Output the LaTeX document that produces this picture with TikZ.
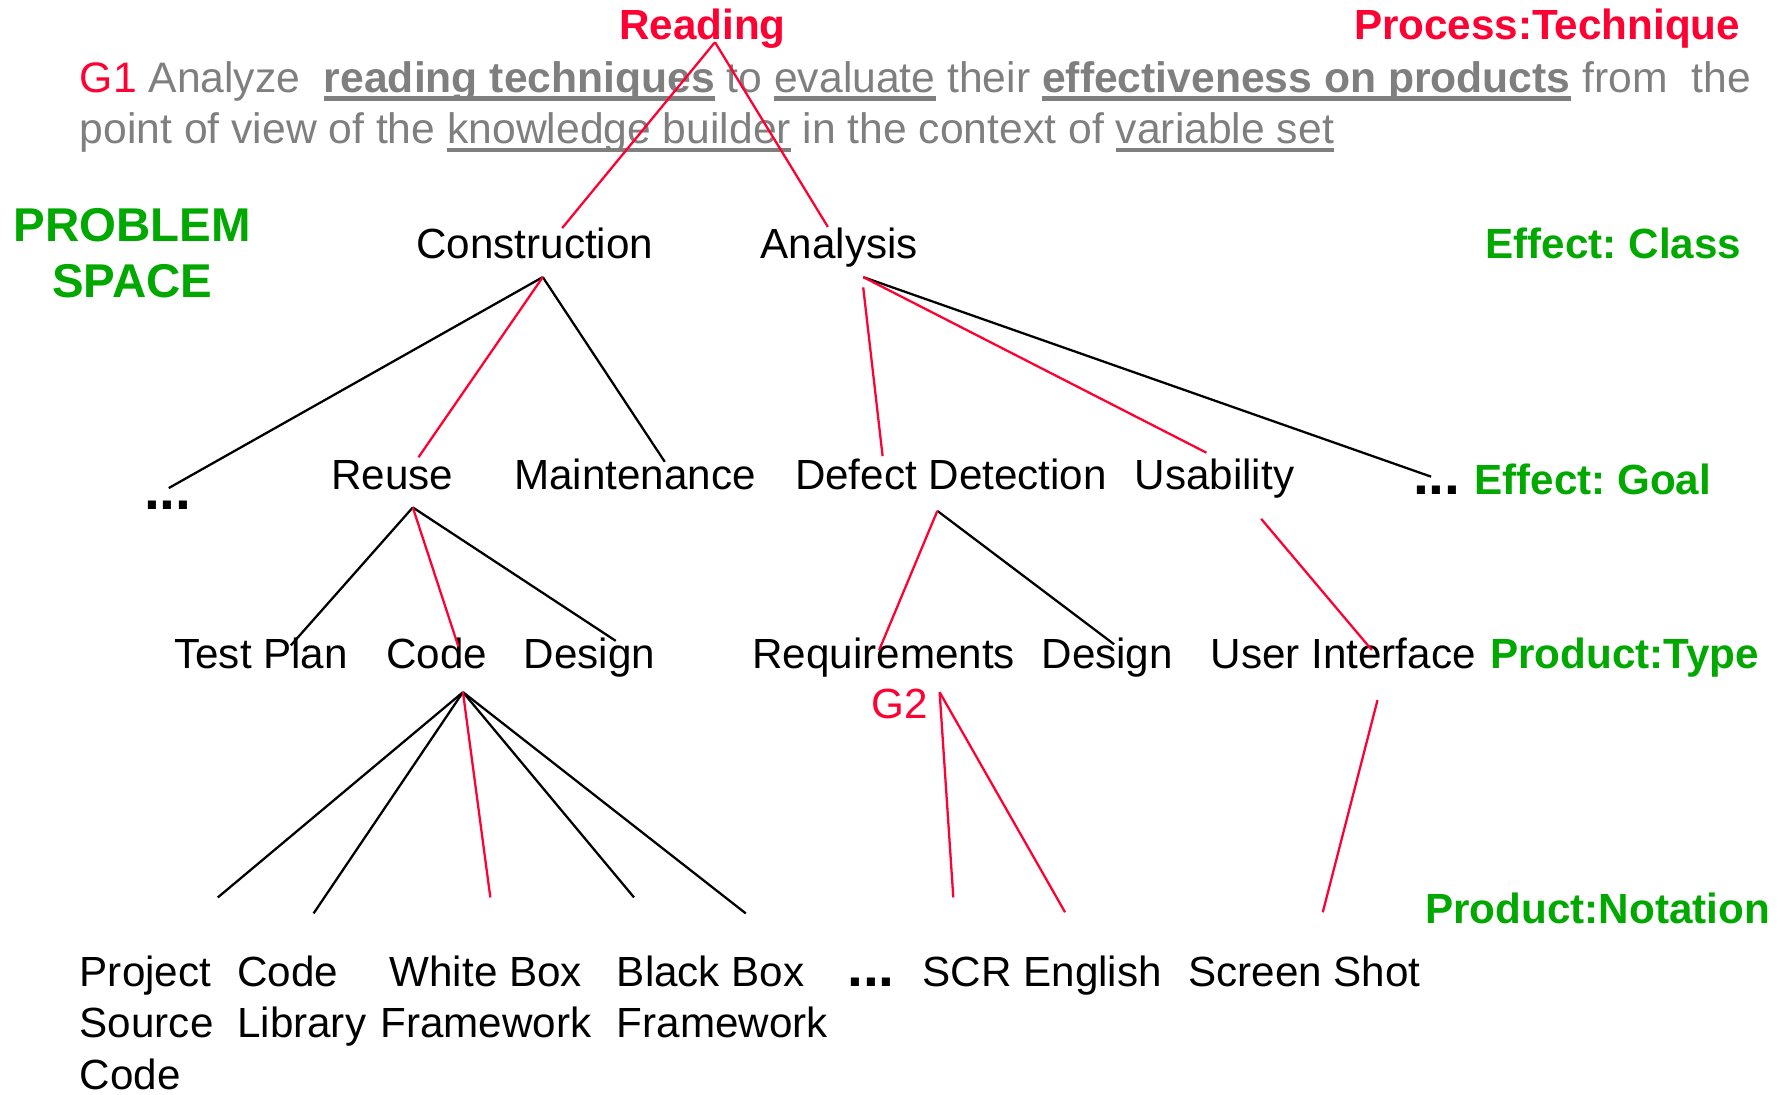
\documentclass[tikz,border=0pt]{standalone}
\usepackage{fontspec}
\setmainfont{Liberation Sans}
\definecolor{hotred}{HTML}{FF0033}
\definecolor{spacegreen}{HTML}{00A800}
\definecolor{goalgray}{HTML}{7F7F7F}
\newlength\ulwidth
% thick underline used in the goal statement
\newcommand\thickul[1]{\settowidth\ulwidth{#1}\rlap{\rule[-3.8pt]{\ulwidth}{2pt}}#1}
\newcommand\lines[2]{\begin{tabular}[t]{@{}#1@{}}#2\end{tabular}}
% heavy ellipsis for omitted branches
\newcommand\moredots{{\fontsize{25}{30}\selectfont\bfseries .\kern-0.15pt.\kern-0.15pt.}}
\frenchspacing

\begin{document}
\begin{tikzpicture}[x=0.5pt,y=-0.5pt,
  every node/.style={inner sep=0pt,outer sep=0pt,font=\fontsize{18.5}{22.5}\selectfont},
  lbl/.style={anchor=base},
  facet/.style={font=\fontsize{18.5}{22.5}\selectfont\bfseries,text=spacegreen},
  process/.style={font=\fontsize{18.5}{22.5}\selectfont\bfseries,text=hotred},
  goal/.style={anchor=base west,text=goalgray,font=\fontsize{18.7}{22.5}\selectfont},
  redlink/.style={draw=hotred,line width=1pt},
  blacklink/.style={draw=black,line width=1pt},
]
\useasboundingbox (0,0) rectangle (1568,960);

% ---- headings and goal statement
\node[process,anchor=base] (reading) at (616,35) {Reading};
\node[process,anchor=base east] (proctech) at (1526,35) {Process:Technique};
\node[goal] (g1a) at (70,81)
  {\textcolor{hotred}{G1} Analyze\ \ \thickul{\textbf{reading techniques}} to \thickul{evaluate} their \thickul{\textbf{effectiveness on products}} from\ \ the};
\node[goal] (g1b) at (70,126)
  {point of view of the \thickul{knowledge builder} in the context of \thickul{variable set}};

\node[anchor=base,font=\fontsize{20.8}{24.5}\selectfont\bfseries,text=spacegreen] (space) at (116,212)
  {\lines{c}{PROBLEM\\SPACE}};

% ---- effect: class
\node[lbl] (construction) at (469,227) {Construction};
\node[lbl] (analysis) at (736,227) {Analysis};
\node[facet,anchor=base east] (effclass) at (1527,227) {Effect: Class};

% ---- effect: goal
\node[lbl] (dotsa) at (147,447) {\moredots};
\node[lbl] (reuse) at (344,429) {Reuse};
\node[lbl] (maint) at (557,429) {Maintenance};
\node[lbl] (defect) at (834,429) {Defect Detection};
\node[lbl] (usab) at (1065,429) {Usability};
\node[lbl] (dotsb) at (1260,434) {\moredots};
\node[facet,anchor=base west] (effgoal) at (1293,434) {Effect: Goal};

% ---- product: type
\node[lbl] (testplan) at (229,586) {Test Plan};
\node[lbl] (code) at (383,586) {Code};
\node[lbl] (designa) at (517,586) {Design};
\node[lbl] (req) at (775,586) {Requirements};
\node[lbl] (designb) at (971,586) {Design};
\node[lbl] (ui) at (1178,586) {User Interface};
\node[facet,anchor=base west] (prodtype) at (1307,586) {Product:Type};
\node[lbl,text=hotred] (g2) at (789,630) {G2};

% ---- product: notation
\node[facet,anchor=base west] (prodnot) at (1250,810) {Product:Notation};
\node[anchor=base west] (project) at (70,865) {\lines{l}{Project\\Source\\Code}};
\node[anchor=base west] (codelib) at (208,865) {\lines{l}{Code\\Library}};
\node[anchor=base] (whitebox) at (426,865) {\lines{c}{White Box\\Framework}};
\node[anchor=base west] (blackbox) at (541,865) {\lines{l}{Black Box\\Framework}};
\node[lbl] (dotsc) at (764,865) {\moredots};
\node[lbl] (scr) at (914,865) {SCR English};
\node[lbl] (shot) at (1144,865) {Screen Shot};

% ---- connector end points
\coordinate (readingfoot) at (627,37);
\coordinate (constructionhead) at (493,200);
\coordinate (analysishead) at (726,199);
\coordinate (constructionfoot) at (476,243);
\coordinate (analysisfoot) at (757,243);
\coordinate (analysisfootb) at (757,252);
\coordinate (dotsahead) at (148,428);
\coordinate (reusehead) at (367,401);
\coordinate (mainthead) at (583,405);
\coordinate (defecthead) at (774,400);
\coordinate (usabhead) at (1058,397);
\coordinate (dotsbhead) at (1255,418);
\coordinate (reusefoot) at (362,445);
\coordinate (defectfoot) at (822,448);
\coordinate (usabfoot) at (1106,455);
\coordinate (testplanhead) at (255,566);
\coordinate (codehead) at (402,567);
\coordinate (designahead) at (540,562);
\coordinate (reqhead) at (771,570);
\coordinate (designbhead) at (977,565);
\coordinate (uihead) at (1203,570);
\coordinate (codefoot) at (406,607);
\coordinate (g2foot) at (824,607);
\coordinate (uifoot) at (1208,614);
\coordinate (projecthead) at (191,787);
\coordinate (codelibhead) at (275,801);
\coordinate (whiteboxhead) at (430,787);
\coordinate (blackboxhead) at (556,787);
\coordinate (blackboxheadb) at (654,801);
\coordinate (scrhead) at (836,787);
\coordinate (englishhead) at (934,800);
\coordinate (shothead) at (1160,800);

% ---- black connectors
\draw[blacklink] (constructionfoot) -- (dotsahead);
\draw[blacklink] (constructionfoot) -- (mainthead);
\draw[blacklink] (analysisfoot) -- (dotsbhead);
\draw[blacklink] (reusefoot) -- (testplanhead);
\draw[blacklink] (reusefoot) -- (designahead);
\draw[blacklink] (defectfoot) -- (designbhead);
\draw[blacklink] (codefoot) -- (projecthead);
\draw[blacklink] (codefoot) -- (codelibhead);
\draw[blacklink] (codefoot) -- (blackboxhead);
\draw[blacklink] (codefoot) -- (blackboxheadb);

% ---- red path of the goal
\draw[redlink] (readingfoot) -- (constructionhead);
\draw[redlink] (readingfoot) -- (analysishead);
\draw[redlink] (constructionfoot) -- (reusehead);
\draw[redlink] (analysisfootb) -- (defecthead);
\draw[redlink] (analysisfoot) -- (usabhead);
\draw[redlink] (reusefoot) -- (codehead);
\draw[redlink] (defectfoot) -- (reqhead);
\draw[redlink] (usabfoot) -- (uihead);
\draw[redlink] (codefoot) -- (whiteboxhead);
\draw[redlink] (g2foot) -- (scrhead);
\draw[redlink] (g2foot) -- (englishhead);
\draw[redlink] (uifoot) -- (shothead);
\end{tikzpicture}
\end{document}
